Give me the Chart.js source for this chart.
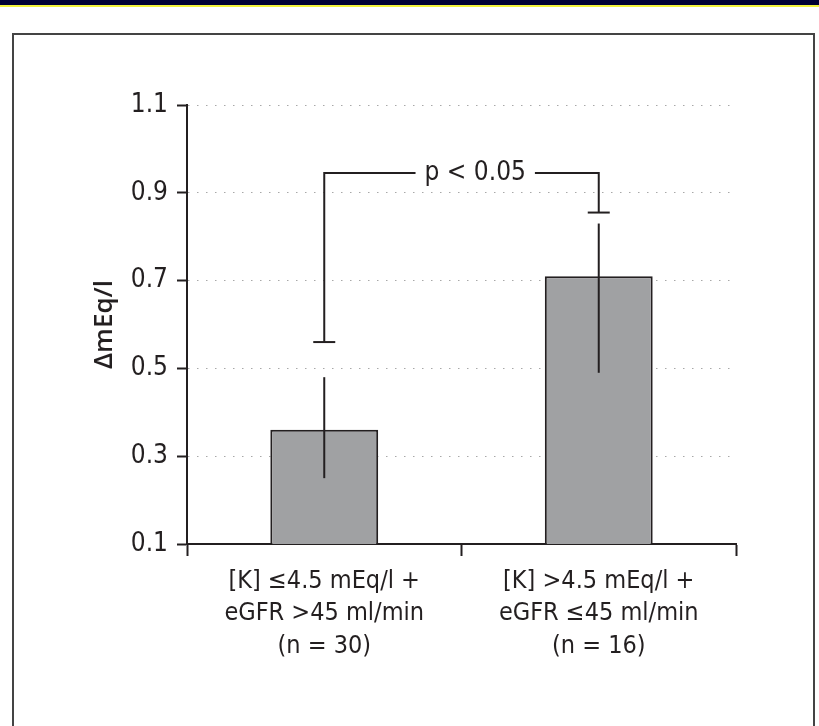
<!DOCTYPE html>
<html>
<head>
<meta charset="utf-8">
<script src="https://cdn.jsdelivr.net/npm/chart.js@4.4.0/dist/chart.umd.min.js"></script>
<style>
  html, body { margin: 0; padding: 0; background: #fff; }
  #page { position: relative; width: 819px; height: 726px; overflow: hidden; }
  .topband { position: absolute; left: 0; top: 0; width: 819px; height: 5px; background: #000033; }
  .yellow { position: absolute; left: 0; top: 5px; width: 819px; height: 2px; background: #f2f23c; }
  .frame { position: absolute; left: 12px; top: 33px; width: 799px; height: 720px; border: 2px solid #444; border-bottom: none; }
  #wrap { position: absolute; left: 0; top: 0; width: 819px; height: 726px; }
</style>
</head>
<body>
<div id="page">
  <div class="topband"></div>
  <div class="yellow"></div>
  <div class="frame"></div>
  <div id="wrap"><canvas id="chart"></canvas></div>
</div>
<script>
// data
var categories = [
  ['[K] \u22644.5 mEq/l +', 'eGFR >45 ml/min', '(n = 30)'],
  ['[K] >4.5 mEq/l +', 'eGFR \u226445 ml/min', '(n = 16)']
];
var meanValues = [0.36, 0.71];
var errorLow = [0.25, 0.49];
var errorHigh = [0.48, 0.83];
var yTicks = [0.1, 0.3, 0.5, 0.7, 0.9, 1.1];
var bracketFeet = [0.56, 0.855];
var bracketTop = 0.945;
var pLabel = 'p < 0.05';
var pLabelAt = 0.55; // position along the category axis

var ink = '#231f20';
var narrow = "'Liberation Sans Narrow', 'DejaVu Sans Condensed', 'Roboto Condensed', 'Noto Sans', sans-serif";

var errorBars = {
  id: 'errorBars',
  afterDatasetsDraw: function(chart) {
    var ctx = chart.ctx;
    var y = chart.scales.y, x = chart.scales.x;
    var bars = chart.getDatasetMeta(0).data;
    ctx.save();
    ctx.strokeStyle = ink;
    ctx.lineWidth = 2;
    bars.forEach(function(bar, i) {
      ctx.beginPath();
      ctx.moveTo(bar.x, y.getPixelForValue(errorLow[i]));
      ctx.lineTo(bar.x, y.getPixelForValue(errorHigh[i]));
      ctx.stroke();
    });

    // significance bracket
    ctx.font = '26px ' + narrow;
    var top = y.getPixelForValue(bracketTop);
    var tx = x.getPixelForValue(pLabelAt);
    var half = ctx.measureText(pLabel).width / 2 + 9;
    var ends = [tx - half, tx + half];
    bars.forEach(function(bar, i) {
      var fy = y.getPixelForValue(bracketFeet[i]);
      ctx.beginPath();
      ctx.moveTo(bar.x - 11, fy);
      ctx.lineTo(bar.x + 11, fy);
      ctx.stroke();
      ctx.beginPath();
      ctx.moveTo(bar.x, fy);
      ctx.lineTo(bar.x, top);
      ctx.lineTo(ends[i], top);
      ctx.stroke();
    });
    ctx.fillStyle = ink;
    ctx.textAlign = 'center';
    ctx.textBaseline = 'middle';
    ctx.fillText(pLabel, tx, top);
    ctx.restore();
  }
};

new Chart(document.getElementById('chart'), {
  type: 'bar',
  data: {
    labels: categories,
    datasets: [{
      data: meanValues,
      backgroundColor: '#a0a1a3',
      borderColor: ink,
      borderWidth: 2,
      borderSkipped: 'start',
      barPercentage: 0.393,
      categoryPercentage: 1
    }]
  },
  options: {
    responsive: true,
    maintainAspectRatio: false,
    animation: false,
    layout: { padding: { left: 88, top: 105, right: 83, bottom: 0 } },
    plugins: {
      legend: { display: false },
      tooltip: { enabled: false }
    },
    scales: {
      x: {
        offset: true,
        afterFit: function(s) { s.height = 182; },
        grid: {
          offset: true,
          drawOnChartArea: false,
          tickLength: 12,
          tickColor: ink,
          tickWidth: 2
        },
        border: { color: ink, width: 2 },
        ticks: {
          color: ink,
          padding: 9,
          font: { family: narrow, size: 25, lineHeight: 1.3 }
        }
      },
      y: {
        min: 0.1,
        max: 1.1,
        afterFit: function(s) { s.width = 99; },
        afterBuildTicks: function(s) {
          s.ticks = yTicks.map(function(v) { return { value: v }; });
        },
        grid: {
          color: '#a8a8a8',
          lineWidth: 1,
          tickLength: 10,
          tickColor: ink,
          tickWidth: 2,
          tickBorderDash: []
        },
        border: { color: ink, width: 2, dash: [1.5, 7.5] },
        ticks: {
          color: ink,
          padding: 9,
          font: { family: narrow, size: 26 },
          callback: function(v) { return v.toFixed(1); }
        },
        title: {
          display: true,
          text: '\u0394mEq/l',
          color: ink,
          padding: { top: 1, bottom: 0 },
          font: { family: "'Open Sans', sans-serif", size: 26, weight: '600' }
        }
      }
    }
  },
  plugins: [errorBars]
});
</script>
</body>
</html>
